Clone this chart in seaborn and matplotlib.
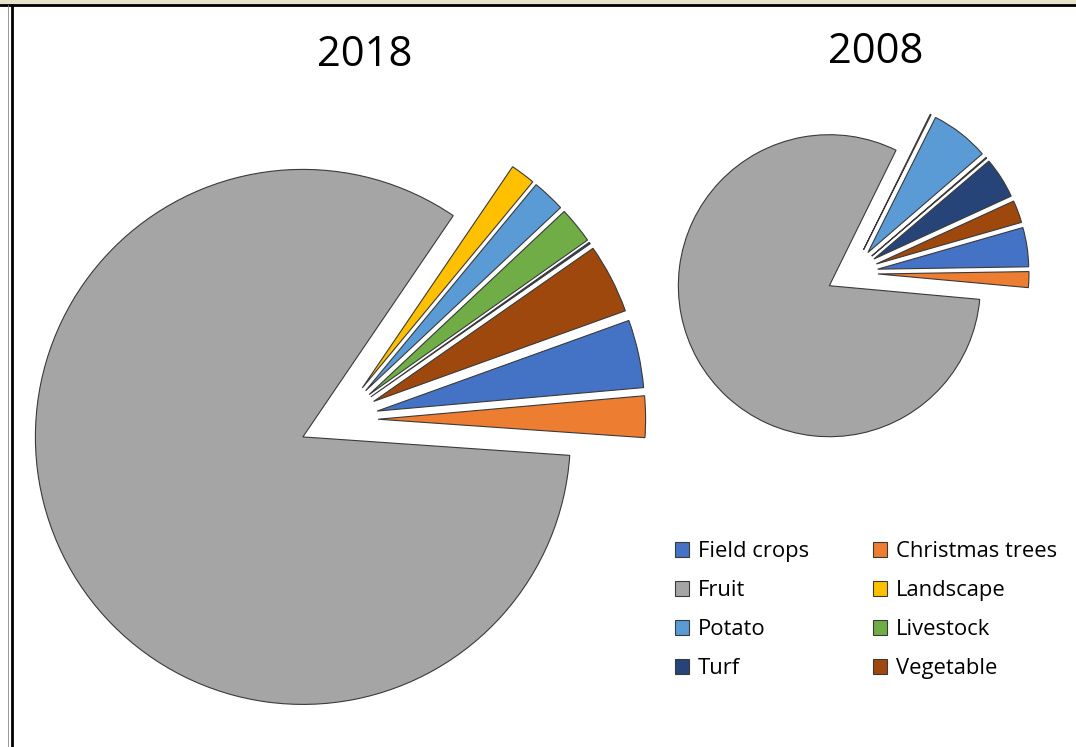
import matplotlib
matplotlib.use("Agg")
import matplotlib.pyplot as plt
import matplotlib.patches as mpatches
from matplotlib.lines import Line2D
import seaborn as sns

# data (percent of acreage)
categories = ['Field crops', 'Christmas trees', 'Fruit', 'Landscape',
              'Potato', 'Livestock', 'Turf', 'Vegetable']
values_2018 = [4.1, 2.5, 83.4, 1.5, 2.0, 2.2, 0.1, 4.2]
values_2008 = [4.2, 1.7, 81.0, 0.1, 6.3, 0.1, 4.4, 2.4]
colors = ['#4472C4', '#ED7D31', '#A5A5A5', '#FFC000',
          '#5B9BD5', '#70AD47', '#264478', '#9E480E']

sns.set_theme(style="white")
plt.rcParams['font.family'] = ['Open Sans', 'DejaVu Sans']
palette = sns.color_palette(colors)

W, H = 1076, 747
fig = plt.figure(figsize=(W / 100, H / 100), dpi=100)
fig.patch.set_facecolor('white')


def pie_axes(cx, cy, r, half):
    # place a square axes so that the pie centre lands at pixel (cx, cy)
    size = 2 * half * r
    return fig.add_axes([(cx - size / 2) / W, (H - cy - size / 2) / H, size / W, size / H])


def draw_pie(ax, vals, start, expl, half):
    ax.pie(vals, colors=palette, startangle=start, counterclock=False,
           explode=[expl] * len(vals), radius=1,
           wedgeprops=dict(edgecolor='#3a3a3a', linewidth=0.8))
    ax.set_xlim(-half, half)
    ax.set_ylim(-half, half)
    ax.set_aspect('equal')
    ax.axis('off')


ax1 = pie_axes(338.5, 419.6, 267.5, 1.2)
draw_pie(ax1, values_2018, 19.8, 0.148, 1.2)

ax2 = pie_axes(852, 273, 151, 1.3)
draw_pie(ax2, values_2008, 16.0, 0.172, 1.3)

fig.text(365 / W, 1 - 66 / H, '2018', ha='center', va='baseline', fontsize=30, color='black')
fig.text(876 / W, 1 - 63 / H, '2008', ha='center', va='baseline', fontsize=30, color='black')

# legend is filled row by row, like the original
handles = [mpatches.Patch(facecolor=c, edgecolor='#3a3a3a', linewidth=0.8) for c in colors]
order = [0, 2, 4, 6, 1, 3, 5, 7]
fig.legend([handles[i] for i in order], [categories[i] for i in order], ncol=2,
           loc='upper left', bbox_to_anchor=(675 / W, 1 - 541 / H), frameon=False,
           fontsize=15.8, labelcolor='black', handlelength=0.65, handleheight=0.65,
           handletextpad=0.4, labelspacing=0.82, columnspacing=2.9,
           borderpad=0, borderaxespad=0)

# window-like frame on top and left
fig.add_artist(mpatches.Rectangle((0, 1 - 4 / H), 1, 4 / H, transform=fig.transFigure,
                                  facecolor='#e6e4c8', edgecolor='none'))
fig.add_artist(Line2D([0, 1], [1 - 5 / H, 1 - 5 / H], transform=fig.transFigure,
                      color='black', linewidth=2))
fig.add_artist(Line2D([12 / W, 12 / W], [0, 1 - 5 / H], transform=fig.transFigure,
                      color='black', linewidth=2))
fig.add_artist(Line2D([8 / W, 8 / W], [0, 1 - 5 / H], transform=fig.transFigure,
                      color='#888888', linewidth=0.6))

fig.savefig('out.png', dpi=100)
